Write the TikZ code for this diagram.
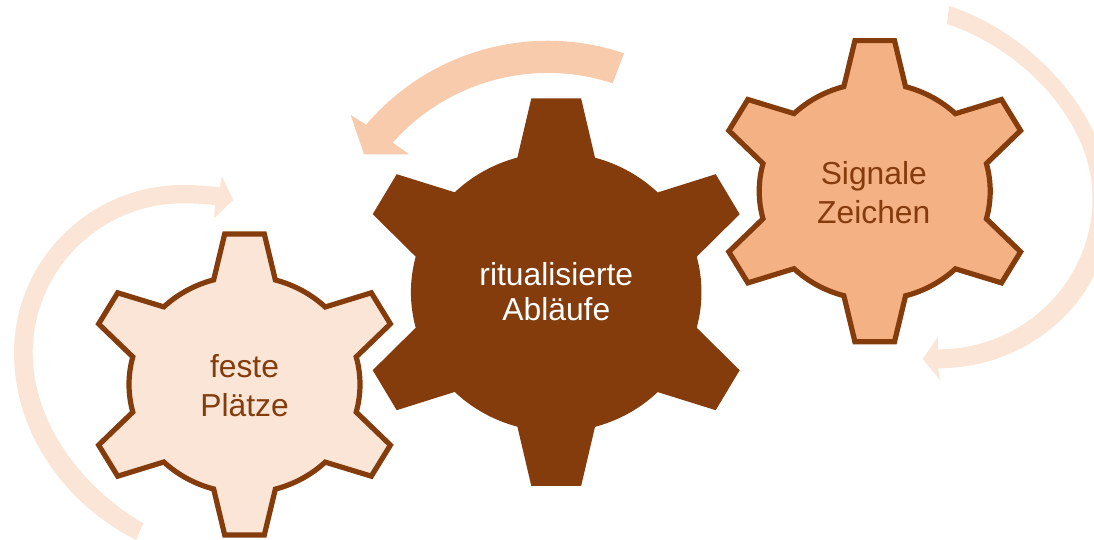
\documentclass[tikz,border=0pt]{standalone}
\usepackage{fontspec}
\setmainfont{Liberation Sans}
\definecolor{darkbrown}{HTML}{843C0C}
\definecolor{midorange}{HTML}{F4B183}
\definecolor{lightorange}{HTML}{FBE5D6}
\definecolor{arroworange}{HTML}{F8CBAD}
\newcommand{\gearoutline}{
  (-24.9,193.8) -- (24.9,193.8) -- (38.8,134.5)
  arc[start angle=74.5,end angle=45.6,x radius=145,y radius=139.5]
  -- (159.5,118) -- (183.5,78) -- (140.5,35.5)
  arc[start angle=14.75,end angle=-14.75,x radius=145,y radius=139.5]
  -- (183.5,-78) -- (159.5,-118) -- (101.5,-99.9)
  arc[start angle=-45.6,end angle=-74.5,x radius=145,y radius=139.5]
  -- (24.9,-193.8) -- (-24.9,-193.8) -- (-38.8,-134.5)
  arc[start angle=-105.5,end angle=-134.4,x radius=145,y radius=139.5]
  -- (-159.5,-118) -- (-183.5,-78) -- (-140.5,-35.5)
  arc[start angle=-165.25,end angle=-194.75,x radius=145,y radius=139.5]
  -- (-183.5,78) -- (-159.5,118) -- (-101.5,99.9)
  arc[start angle=134.4,end angle=105.5,x radius=145,y radius=139.5]
  -- cycle}
\tikzset{
  gearoutlined/.style={draw=darkbrown,line width=5.2pt,miter limit=10},
  geartext/.style={align=center,inner sep=0pt,anchor=base,font=\fontsize{31.8}{39.3}\selectfont},
}
\begin{document}
\begin{tikzpicture}[x=1pt,y=1pt]
\useasboundingbox (0,0) rectangle (1094,540);
\clip (0,0) rectangle (1094,540);
% arrows
\fill[arroworange] (547.5,260) ++(71.35:239.3) arc[start angle=71.35,end angle=139.6,radius=238.5]
  -- (350.7,425) -- (364,385.7) -- (409.3,385.7) -- (392.7,397.3)
  arc[start angle=138.4,end angle=71.8,radius=207.5] -- cycle;
\begin{scope}[shift={(0,540)},yscale=-1]
\fill[lightorange] (136,540)
  .. controls (64.7,503.7) and (14,433) .. (14,353)
  .. controls (14,260.2) and (89.8,185) .. (183.3,185)
  .. controls (195,185) and (208,186) .. (220,187.3)
  -- (221.7,176) -- (233.3,200) -- (214,218.3) -- (215,205)
  .. controls (205,204) and (194,203.3) .. (183.3,203.3)
  .. controls (100.1,203.3) and (32.7,270.3) .. (32.7,353)
  .. controls (32.7,423) and (82.7,488.3) .. (143.3,523.3) -- cycle;
\fill[lightorange] (949.3,6)
  .. controls (1033,33.3) and (1111,117) .. (1111,205)
  .. controls (1111,295) and (1033.7,368.3) .. (938.3,368.3)
  -- (940,380) -- (922.7,359) -- (937.7,337.3) -- (938.3,349.3)
  .. controls (1023.5,349.3) and (1092.5,281.6) .. (1092.5,198)
  .. controls (1092.5,120) and (1020.7,48) .. (946.7,24) -- cycle;
\end{scope}
% gears
\begin{scope}[shift={(244.5,155.5)},xscale=.795,yscale=.777]
  \path[gearoutlined,fill=lightorange] \gearoutline;
\end{scope}
\begin{scope}[shift={(556.2,247.8)}]
  \path[fill=darkbrown] \gearoutline;
\end{scope}
\begin{scope}[shift={(874.7,348.8)},xscale=.795,yscale=.777]
  \path[gearoutlined,fill=midorange] \gearoutline;
\end{scope}
% labels
\node[geartext,text=darkbrown] (feste) at (244.5,123.2) {feste\\Plätze};
\node[geartext,text=white,font=\fontsize{31.8}{34.3}\selectfont] (ablauf) at (556.3,219.9) {ritualisierte\\Abläufe};
\node[geartext,text=darkbrown] (signal) at (873.8,316.5) {Signale\\Zeichen};
\end{tikzpicture}
\end{document}
